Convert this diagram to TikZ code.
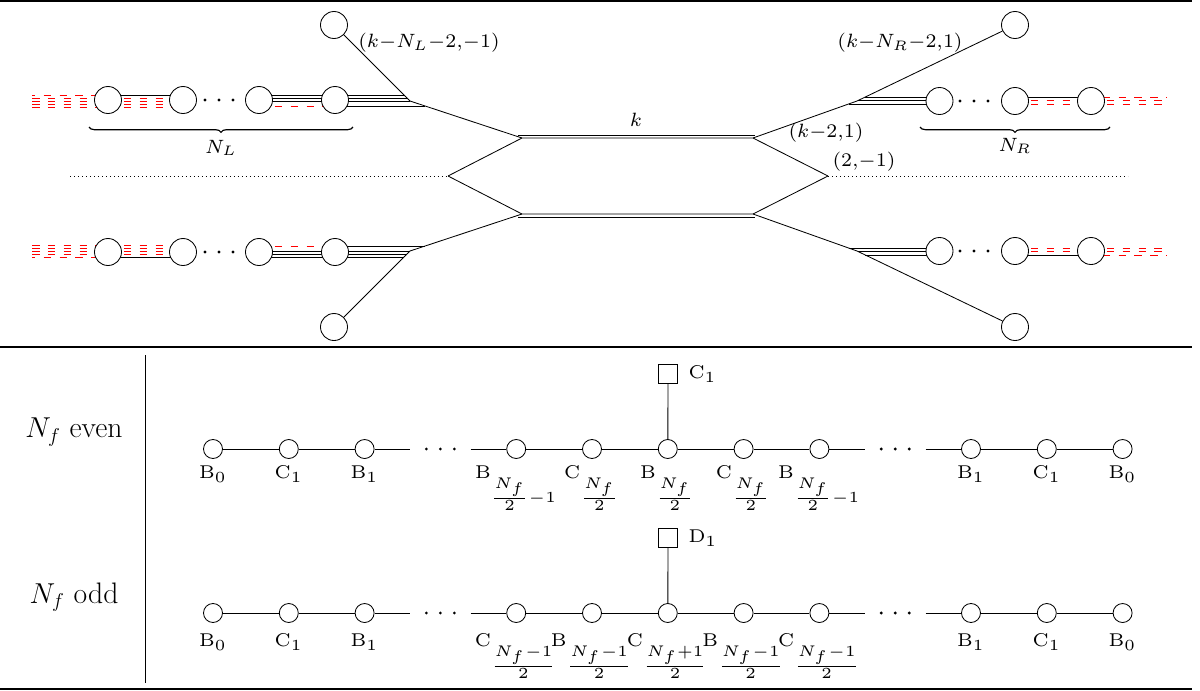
\documentclass[tikz,border=0pt]{standalone}
\usetikzlibrary{decorations.pathreplacing}
\pgfdeclarelayer{bg}
\pgfsetlayers{bg,main}
\tikzset{
  web/.style={line width=0.5pt},
  redstrand/.style={red, line width=0.5pt, dash pattern=on 4.5pt off 5pt},
  redstrandB/.style={red, line width=0.5pt, dash pattern=on 4.5pt off 5pt, dash phase=2.5pt},
  bcirc/.style={circle, draw, fill=white, minimum size=16.2pt, inner sep=0pt, line width=0.5pt},
  scirc/.style={circle, draw, fill=white, minimum size=11.4pt, inner sep=0pt, line width=0.5pt},
  sq/.style={draw, fill=white, minimum size=11.4pt, inner sep=0pt, line width=0.5pt},
  dotmark/.style={circle, fill, inner sep=0pt, minimum size=1.9pt},
  lab/.style={font=\scriptsize, inner sep=1pt, scale=1.65},
  blab/.style={font=\tiny, inner sep=0pt, scale=1.85},
  biglab/.style={font=\fontsize{17.8}{21}\selectfont},
  brc/.style={decorate, decoration={brace, mirror, amplitude=3.2pt}, line width=0.7pt},
}
\newcommand\LL[2]{{\fontsize{6}{7}\selectfont #1}$_{#2}$}
\newcommand\LF[2]{{\fontsize{6}{7}\selectfont #1}\raisebox{-1.7pt}{$_{#2}$}}
\newcommand\webhalf[2]{%
\begin{scope}[shift={(0,176)}, y=#2]
  \node[bcirc] (#1a) at (108,-76) {};
  \node[bcirc] (#1b) at (183,-76) {};
  \node[bcirc] (#1c) at (259,-76) {};
  \node[bcirc] (#1d) at (335,-76) {};
  \node[bcirc] (#1t) at (334,-151) {};
  \node[bcirc] (#1p) at (939.5,-75) {};
  \node[bcirc] (#1q) at (1015,-75) {};
  \node[bcirc] (#1r) at (1091,-75) {};
  \node[bcirc] (#1u) at (1015,-151) {};
  \foreach \x in {205,219,233} {\node[dotmark] at (\x,-76) {};}
  \foreach \x in {960,974,988} {\node[dotmark] at (\x,-75) {};}
  \coordinate (#1VL) at (410,-75);
  \coordinate (#1VR) at (857,-75);
  \coordinate (#1HTL) at (522,-38);
  \coordinate (#1HTR) at (753,-38);
  \coordinate (#1HL) at (448,0);
  \coordinate (#1HR) at (828,0);
  \coordinate (#1K1) at (518,-41);
  \coordinate (#1K2) at (755,-41);
  \coordinate (#1EL) at (32,-76);
  \coordinate (#1ER) at (1167,-75);
  \coordinate (#1L1) at (404,-81);
  \coordinate (#1L2) at (407,-78);
  \coordinate (#1L3) at (410,-75);
  \coordinate (#1L4) at (425,-70);
  \coordinate (#1R1) at (865.3,-79);
  \coordinate (#1R2) at (858,-75.5);
  \coordinate (#1R3) at (848.6,-72);
  \begin{pgfonlayer}{bg}
    \draw[redstrandB] (#1EL |- 0,-81) -- (#1a.center |- 0,-81);
    \foreach \d in {-78,-75,-72,-69}
      {\draw[redstrand] (#1EL |- 0,\d) -- (#1a.center |- 0,\d);}
    \draw[web] (#1a.center |- 0,-81) -- (#1b.center |- 0,-81);
    \foreach \d in {-78,-75,-72,-69}
      {\draw[redstrand] (#1a.center |- 0,\d) -- (#1b.center |- 0,\d);}
    \foreach \d in {-81,-78,-75}
      {\draw[web] (#1c.center |- 0,\d) -- (#1d.center |- 0,\d);}
    \draw[redstrand] (#1c.center |- 0,-70) -- (#1d.center |- 0,-70);
    \draw[web] (#1d.center |- #1L1) -- (#1L1);
    \draw[web] (#1d.center |- #1L2) -- (#1L2);
    \draw[web] (#1d.center |- #1L3) -- (#1L3);
    \draw[web] (#1d.center |- #1L4) -- (#1L4);
    \draw[web] (#1R1) -- (#1p.center |- #1R1);
    \draw[web] (#1R2) -- (#1p.center |- #1R2);
    \draw[web] (#1R3) -- (#1p.center |- #1R3);
    \draw[web] (#1q.center |- 0,-79) -- (#1r.center |- 0,-79);
    \foreach \d in {-75.5,-72}
      {\draw[redstrand] (#1q.center |- 0,\d) -- (#1r.center |- 0,\d);}
    \draw[redstrandB] (#1r.center |- 0,-79) -- (#1ER |- 0,-79);
    \foreach \d in {-75.5,-72}
      {\draw[redstrand] (#1r.center |- 0,\d) -- (#1ER |- 0,\d);}
  \end{pgfonlayer}
  \draw[web] (#1t) -- (#1VL) -- (#1HTL) -- (#1HTR) -- (#1VR) -- (#1u);
  \draw[web] (#1HL) -- (#1HTL);
  \draw[web] (#1HTR) -- (#1HR);
  \draw[web] (#1K1) -- (#1K2);
\end{scope}}

\begin{document}
\begin{tikzpicture}[x=0.6pt, y=-0.6pt]
\useasboundingbox (0,0) rectangle (1200,690);
% rules
\draw[line width=1.2pt] (0,1) -- (1192,1);
\draw[line width=0.7pt] (0,347) -- (1192,347);
\draw[line width=1.2pt] (0,688.5) -- (1192,688.5);

% ---------- top panel ----------
\webhalf{U}{-0.6pt}
\webhalf{W}{0.6pt}
\draw[dotted] (70,176) coordinate (dl) -- (UHL);
\draw[dotted] (UHR) -- (1128,176) coordinate (dr);

\draw[brc] (89,127) -- (353,127);
\draw[brc] (920,127) -- (1110,127);
\node[lab] (nl) at (221,148) {$N_L$};
\node[lab] (nr) at (1015,146) {$N_R$};
\node[lab] (l1) at (429,43) {$(k{-}N_L{-}2{,}{-}1)$};
\node[lab] (l2) at (900,43) {$(k{-}N_R{-}2{,}1)$};
\node[lab] (l3) at (826,133) {$(k{-}2{,}1)$};
\node[lab] (l4) at (864,162) {$(2{,}{-}1)$};
\node[lab] (lk) at (636,120) {$k$};

% ---------- bottom panel ----------
\draw[line width=0.5pt] (145,355) coordinate (va) -- (145,683) coordinate (vb);
\node[biglab] (ev) at (74,432) {$N_f$ even};
\node[biglab] (od) at (74,597) {$N_f$ odd};

% even row
\foreach \k/\t in {0/{\LL{B}{0}},1/{\LL{C}{1}},2/{\LL{B}{1}},
   4/{\LF{B}{\frac{N_f}{2}-1}},5/{\LF{C}{\frac{N_f}{2}}},6/{\LF{B}{\frac{N_f}{2}}},
   7/{\LF{C}{\frac{N_f}{2}}},8/{\LF{B}{\frac{N_f}{2}-1}},
   10/{\LL{B}{1}},11/{\LL{C}{1}},12/{\LL{B}{0}}}{
  \node[scirc] (e\k) at ({213+75.8*\k},449) {};
  \node[blab, anchor=base] (el\k) at ({213+75.8*\k},478) {\t};
}
\coordinate (ea) at ({213+75.8*2.6},449);
\coordinate (eb) at ({213+75.8*3.4},449);
\coordinate (ec) at ({213+75.8*8.6},449);
\coordinate (ed) at ({213+75.8*9.4},449);
\foreach \k in {3,9} {\foreach \dx in {-14,0,14} {\node[dotmark] at ({213+75.8*\k+\dx},449) {};}}
\begin{pgfonlayer}{bg}
\draw[web] (e0) -- (e1) -- (e2) -- (ea);
\draw[web] (eb) -- (e4) -- (e5) -- (e6) -- (e7) -- (e8) -- (ec);
\draw[web] (ed) -- (e10) -- (e11) -- (e12);
\end{pgfonlayer}
\node[sq] (s1) at (668,374) {};
\node[blab, anchor=west] (s1l) at ([xshift=6pt]s1.east) {\LL{C}{1}};
\draw[web] (s1) -- (e6);

% odd row
\foreach \k/\t in {0/{\LL{B}{0}},1/{\LL{C}{1}},2/{\LL{B}{1}},
   4/{\LF{C}{\frac{N_f-1}{2}}},5/{\LF{B}{\frac{N_f-1}{2}}},6/{\LF{C}{\frac{N_f+1}{2}}},
   7/{\LF{B}{\frac{N_f-1}{2}}},8/{\LF{C}{\frac{N_f-1}{2}}},
   10/{\LL{B}{1}},11/{\LL{C}{1}},12/{\LL{B}{0}}}{
  \node[scirc] (o\k) at ({213+75.8*\k},613) {};
  \node[blab, anchor=base] (ol\k) at ({213+75.8*\k},646) {\t};
}
\coordinate (oa) at ({213+75.8*2.6},613);
\coordinate (ob) at ({213+75.8*3.4},613);
\coordinate (oc) at ({213+75.8*8.6},613);
\coordinate (od) at ({213+75.8*9.4},613);
\foreach \k in {3,9} {\foreach \dx in {-14,0,14} {\node[dotmark] at ({213+75.8*\k+\dx},613) {};}}
\begin{pgfonlayer}{bg}
\draw[web] (o0) -- (o1) -- (o2) -- (oa);
\draw[web] (ob) -- (o4) -- (o5) -- (o6) -- (o7) -- (o8) -- (oc);
\draw[web] (od) -- (o10) -- (o11) -- (o12);
\end{pgfonlayer}
\node[sq] (s2) at (668,538) {};
\node[blab, anchor=west] (s2l) at ([xshift=6pt]s2.east) {\LL{D}{1}};
\draw[web] (s2) -- (o6);
\end{tikzpicture}
\end{document}
